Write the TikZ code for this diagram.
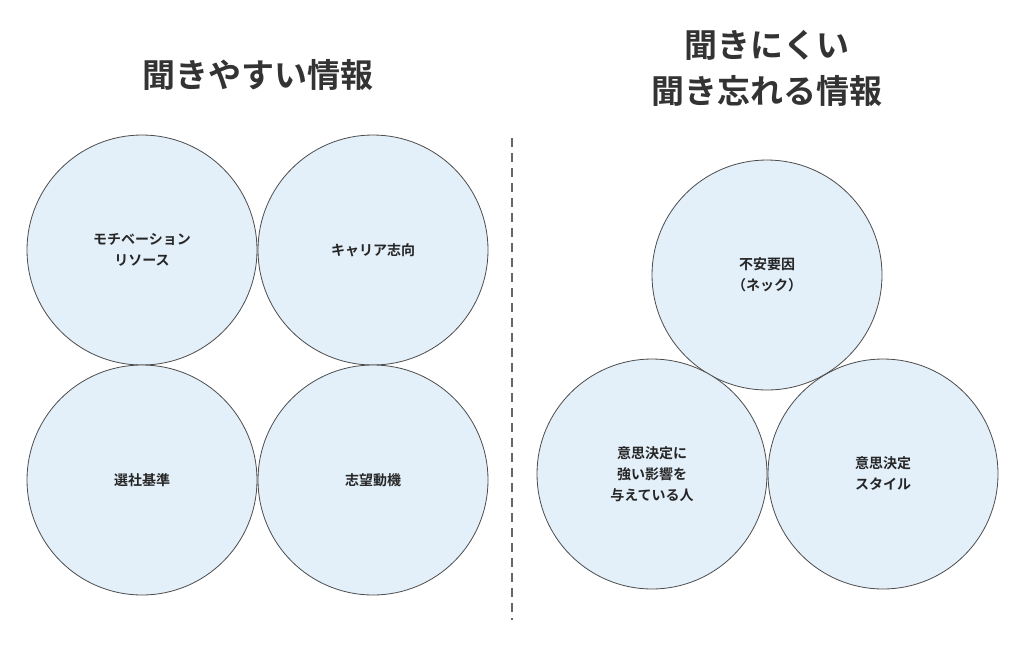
\documentclass[tikz,border=0pt]{standalone}
\usepackage{fontspec}
\setmainfont{Noto Sans CJK JP}[BoldFont={Noto Sans CJK JP Bold}]
\begin{document}
\begin{tikzpicture}[x=1pt,y=-1pt,
  circ/.style={circle,draw=black!70,line width=0.8pt,fill=cfill,minimum size=230pt,inner sep=0pt,align=center,font=\fontsize{14}{21}\selectfont\bfseries,text=black!85},
  title/.style={font=\fontsize{33}{46}\selectfont\bfseries,text=black!80,align=center}]
\definecolor{cfill}{HTML}{E3EFF9}
\useasboundingbox (0,0) rectangle (1024,662);
\node[title] (t1) at (258,75) {聞きやすい情報};
\node[title] (t2) at (767,68) {聞きにくい\\聞き忘れる情報};
\node[circ] (a) at (142,250) {モチベーション\\リソース};
\node[circ] (b) at (373,250) {キャリア志向};
\node[circ] (c) at (142,480) {選社基準};
\node[circ] (d) at (373,480) {志望動機};
\node[circ] (e) at (767,275) {不安要因\\（ネック）};
\node[circ] (f) at (652,474) {意思決定に\\強い影響を\\与えている人};
\node[circ] (g) at (883,474) {意思決定\\スタイル};
\coordinate (s1) at (512,138);
\coordinate (s2) at (512,620);
\draw[black!60,line width=2.5pt,dash pattern=on 9pt off 6pt] (s1) -- (s2);
\end{tikzpicture}
\end{document}
